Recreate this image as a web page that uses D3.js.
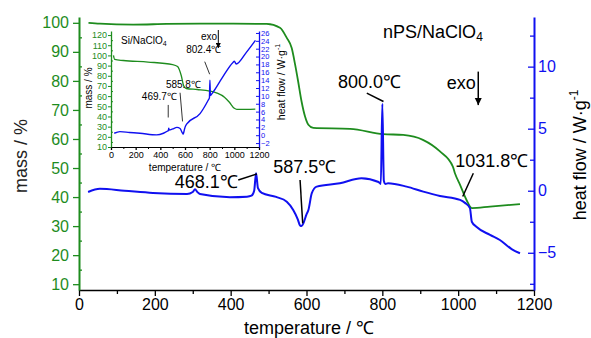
<!DOCTYPE html>
<html>
<head>
<meta charset="utf-8">
<script src="https://cdn.jsdelivr.net/npm/d3@7"></script>
<style>
body { margin: 0; background: #fff; }
text { font-family: "Liberation Sans", Arial, sans-serif; }
</style>
</head>
<body>
<svg id="chart" width="591" height="338"></svg>
<script>
// main curves: nPS/NaClO4
var massTemp = [25, 55, 143, 231, 319, 407, 495, 530, 548, 561, 570, 578, 587, 596, 605, 618, 715, 802, 855, 907, 952, 986, 992, 1005, 1022, 1036, 1084, 1163];
var massVal  = [100, 99.7, 99.4, 99.6, 99.7, 99.7, 99.6, 98.3, 94.8, 91.3, 85.6, 79.8, 72.9, 67.8, 64.9, 63.8, 63.5, 61.7, 61.4, 59.7, 55.7, 50.5, 48, 44.2, 39, 36.2, 36.7, 37.6];

var heatTemp = [24, 55, 120, 195, 285, 300, 306, 312, 319, 398, 443, 455, 462, 467, 472, 482, 520, 548, 565, 577, 583, 587, 592, 600, 605, 614, 627, 688, 745, 790, 796, 800, 804, 808, 815, 864, 908, 952, 1005, 1018, 1031, 1036, 1048, 1084, 1110, 1141, 1163];
var heatVal  = [-0.1, 0.15, 0, -0.18, -0.26, -0.1, 0.12, -0.1, -0.26, -0.52, -0.48, -0.4, 0, 1.41, 0.2, -0.18, -0.5, -0.88, -1.55, -2.3, -2.8, -2.85, -2.6, -1.9, -1.55, -0.2, 0.33, 0.6, 1.0, 0.7, 0.55, 7.0, 0.8, 0.55, 0.6, 0.33, -0.07, -0.42, -0.74, -0.98, -1.4, -2.5, -2.9, -3.56, -3.97, -4.7, -5.04];

// inset curves: Si/NaClO4
var insetMassTemp = [20, 30, 100, 300, 500, 540, 570, 590, 610, 700, 800, 860, 920, 960, 1000, 1020, 1100, 1170];
var insetMassVal  = [100, 96, 95, 93.5, 91, 89, 80, 70, 67.5, 66.5, 65, 63, 59, 54, 48, 47, 47, 47.3];

var insetHeatTemp = [26, 72, 150, 235, 370, 425, 455, 465, 468, 472, 500, 535, 560, 575, 581, 586, 592, 600, 613, 722, 788, 798, 802, 806, 812, 829, 900, 989, 1000, 1015, 1096, 1171];
var insetHeatVal  = [0.5, 0.9, 0.7, 0.5, 0.08, 0.5, 1.0, 1.2, 1.75, 1.3, 1.6, 2.0, 1.7, 0.8, 0.5, 0.3, 1.0, 2.0, 2.8, 5.5, 8.9, 9.5, 14, 10.1, 10.3, 11, 14.5, 18.5, 18.8, 18.1, 21, 24.1];

// ticks
var xTicks = [0, 200, 400, 600, 800, 1000, 1200];
var massTicks = [10, 20, 30, 40, 50, 60, 70, 80, 90, 100];
var heatTicks = [-5, 0, 5, 10];
var insetMassTicks = [10, 20, 30, 40, 50, 60, 70, 80, 90, 100, 110, 120];
var insetHeatTicks = [-2, 0, 2, 4, 6, 8, 10, 12, 14, 16, 18, 20, 22, 24, 26];

// peak labels (temperature, heat flow) for main chart
var peakLabels = ["468.1\u2103", "587.5\u2103", "800.0\u2103", "1031.8\u2103"];
var peakTextPos = [[419, 0.23, "end"], [512, 1.44, "start"], [683, 8.29, "start"], [992, 1.92, "start"]];
var peakLeader = [[[420, 0.87], [469, 1.35]], [[583, 0.87], [590, -2.62]], [[759, 7.86], [803, 7.19]], [[1040, 1.41], [1012, -0.47]]];

// peak labels for inset
var insetLabels = ["469.7\u2103", "585.8\u2103", "802.4\u2103"];
var insetTextPos = [[250, 9.0], [445, 11.9], [610, 21.0]];
var insetLeader = [[[464, 7.7], [464, 4.5]], [[560, 10.8], [580, 3.5]], [[760, 18.7], [800, 15.5]]];

var green = "#1e8c1e", blue = "#1010f0";
var fmt = d3.format("d");
var svg = d3.select("#chart");

var x = d3.scaleLinear().domain([0, 1200]).range([79, 534]);
var yMass = d3.scaleLinear().domain([8, 102]).range([290, 17]);
var yHeat = d3.scaleLinear().domain([-8, 14]).range([290, 17]);

function styleAxis(g, color, w) {
  g.select(".domain").attr("stroke", color).attr("stroke-width", w);
  g.selectAll(".tick line").attr("stroke", color).attr("stroke-width", 1.3);
  g.selectAll(".tick text").attr("fill", color).style("font-family", "Liberation Sans, Arial, sans-serif");
}

// bottom axis
var gx = svg.append("g").attr("transform", "translate(0,290)")
  .call(d3.axisBottom(x).tickValues(xTicks).tickFormat(fmt).tickSize(6).tickSizeOuter(0).tickPadding(3))
  .style("font-size", "16px");
styleAxis(gx, "#000", 1.6);
svg.append("g").attr("transform", "translate(0,290)")
  .call(d3.axisBottom(x).tickValues(d3.range(100, 1200, 200)).tickSize(4).tickFormat(""))
  .call(function(g) { g.select(".domain").remove(); g.selectAll("line").attr("stroke", "#000").attr("stroke-width", 1.3); });

// left axis
var gy = svg.append("g").attr("transform", "translate(79,0)")
  .call(d3.axisLeft(yMass).tickValues(massTicks).tickFormat(fmt).tickSize(6).tickSizeOuter(0).tickPadding(4))
  .style("font-size", "16px");
styleAxis(gy, green, 2);
svg.append("g").attr("transform", "translate(79,0)")
  .call(d3.axisRight(yMass).tickValues(d3.range(15, 100, 10)).tickSize(3).tickFormat(""))
  .call(function(g) { g.select(".domain").remove(); g.selectAll("line").attr("stroke", green).attr("stroke-width", 1.3); });

// right axis
var gr = svg.append("g").attr("transform", "translate(534,0)")
  .call(d3.axisRight(yHeat).tickValues(heatTicks).tickFormat(fmt).tickSize(-6).tickSizeOuter(0).tickPadding(4))
  .style("font-size", "16px");
styleAxis(gr, blue, 2);
svg.append("g").attr("transform", "translate(534,0)")
  .call(d3.axisLeft(yHeat).tickValues([-7.5, -2.5, 2.5, 7.5, 12.5]).tickSize(4).tickFormat(""))
  .call(function(g) { g.select(".domain").remove(); g.selectAll("line").attr("stroke", blue).attr("stroke-width", 1.3); });

// axis titles
svg.append("text").attr("x", 309).attr("y", 334).attr("text-anchor", "middle")
  .style("font-size", "18px").text("temperature / \u2103");
svg.append("text").attr("transform", "translate(27,156) rotate(-90)").attr("text-anchor", "middle")
  .style("font-size", "18px").attr("fill", "#222").text("mass / %");
var ht = svg.append("text").attr("transform", "translate(586,155) rotate(-90)").attr("text-anchor", "middle")
  .style("font-size", "18px");
ht.append("tspan").text("heat flow / W\u00b7g");
ht.append("tspan").attr("dy", -8).style("font-size", "12px").text("-1");

// main curves
var massLine = d3.line().x(function(d) { return x(d[0]); }).y(function(d) { return yMass(d[1]); }).curve(d3.curveMonotoneX);
var heatLine = d3.line().x(function(d) { return x(d[0]); }).y(function(d) { return yHeat(d[1]); }).curve(d3.curveMonotoneX);

svg.append("path").datum(d3.zip(massTemp, massVal)).attr("d", massLine)
  .attr("fill", "none").attr("stroke", green).attr("stroke-width", 1.8);
svg.append("path").datum(d3.zip(heatTemp, heatVal)).attr("d", heatLine)
  .attr("fill", "none").attr("stroke", blue).attr("stroke-width", 2);

// peak annotations
peakLabels.forEach(function(lab, i) {
  var p = peakTextPos[i];
  svg.append("text").attr("x", x(p[0])).attr("y", yHeat(p[1])).attr("text-anchor", p[2])
    .style("font-size", "18px").text(lab);
  var l = peakLeader[i];
  svg.append("line").attr("x1", x(l[0][0])).attr("y1", yHeat(l[0][1]))
    .attr("x2", x(l[1][0])).attr("y2", yHeat(l[1][1]))
    .attr("stroke", "#000").attr("stroke-width", 1.5);
});

// title and exo arrow
var tt = svg.append("text").attr("x", x(802)).attr("y", yHeat(12.3)).style("font-size", "18px");
tt.append("tspan").text("nPS/NaClO");
tt.append("tspan").attr("dy", 3).style("font-size", "12px").text("4");
svg.append("text").attr("x", x(970)).attr("y", yHeat(8.21)).style("font-size", "18px").text("exo");

var defs = svg.append("defs");
defs.append("marker").attr("id", "arr").attr("viewBox", "0 0 10 10")
  .attr("refX", 10).attr("refY", 5).attr("markerWidth", 7).attr("markerHeight", 9)
  .attr("markerUnits", "userSpaceOnUse").attr("orient", "auto")
  .append("path").attr("d", "M0,0 L10,5 L0,10 Z").attr("fill", "#000");
defs.append("marker").attr("id", "arrs").attr("viewBox", "0 0 10 10")
  .attr("refX", 10).attr("refY", 5).attr("markerWidth", 5).attr("markerHeight", 5)
  .attr("markerUnits", "userSpaceOnUse").attr("orient", "auto")
  .append("path").attr("d", "M0,0 L10,5 L0,10 Z").attr("fill", "#000");
svg.append("line").attr("x1", x(1053)).attr("y1", yHeat(9.6)).attr("x2", x(1053)).attr("y2", yHeat(6.9))
  .attr("stroke", "#000").attr("stroke-width", 1.5).attr("marker-end", "url(#arr)");

// ---------- inset ----------
var ix = d3.scaleLinear().domain([0, 1200]).range([111, 259]);
var iyMass = d3.scaleLinear().domain([10, 124]).range([147, 31]);
var iyHeat = d3.scaleLinear().domain([-3, 26.5]).range([147, 31]);
var inset = svg.append("g");

var ixg = inset.append("g").attr("transform", "translate(0,147)")
  .call(d3.axisBottom(ix).tickValues(xTicks).tickFormat(fmt).tickSize(3).tickSizeOuter(0).tickPadding(2))
  .style("font-size", "9px");
styleAxis(ixg, "#000", 1);
inset.append("g").attr("transform", "translate(0,147)")
  .call(d3.axisBottom(ix).tickValues(d3.range(100, 1200, 200)).tickSize(2).tickFormat(""))
  .call(function(g) { g.select(".domain").remove(); g.selectAll("line").attr("stroke", "#000"); });

var iyg = inset.append("g").attr("transform", "translate(111,0)")
  .call(d3.axisLeft(iyMass).tickValues(insetMassTicks).tickFormat(fmt).tickSize(3).tickSizeOuter(0).tickPadding(1))
  .style("font-size", "9px");
styleAxis(iyg, green, 1.3);
iyg.selectAll(".tick line").attr("stroke-width", 1);
inset.append("g").attr("transform", "translate(111,0)")
  .call(d3.axisRight(iyMass).tickValues(d3.range(15, 124, 10)).tickSize(2).tickFormat(""))
  .call(function(g) { g.select(".domain").remove(); g.selectAll("line").attr("stroke", green); });

var irg = inset.append("g").attr("transform", "translate(259,0)")
  .call(d3.axisRight(iyHeat).tickValues(insetHeatTicks).tickFormat(fmt).tickSize(-3).tickSizeOuter(0).tickPadding(2))
  .style("font-size", "7.5px");
styleAxis(irg, blue, 1.3);
irg.selectAll(".tick line").attr("stroke-width", 1);

inset.append("text").attr("transform", "translate(92,88) rotate(-90)").attr("text-anchor", "middle")
  .style("font-size", "10px").text("mass / %");
var iht = inset.append("text").attr("transform", "translate(285,82) rotate(-90)").attr("text-anchor", "middle")
  .style("font-size", "10.5px");
iht.append("tspan").text("heat flow / W\u00b7g");
iht.append("tspan").attr("dy", -5).style("font-size", "7px").text("-1");
inset.append("text").attr("x", 185).attr("y", 171).attr("text-anchor", "middle")
  .style("font-size", "10px").text("temperature / \u2103");

var it = inset.append("text").attr("x", 121).attr("y", 44).style("font-size", "10px");
it.append("tspan").text("Si/NaClO");
it.append("tspan").attr("dy", 2).style("font-size", "7px").text("4");
inset.append("text").attr("x", 201).attr("y", 40).style("font-size", "10px").text("exo");
inset.append("line").attr("x1", ix(870)).attr("y1", 30).attr("x2", ix(870)).attr("y2", 48)
  .attr("stroke", "#000").attr("stroke-width", 1).attr("marker-end", "url(#arrs)");

var iMassLine = d3.line().x(function(d) { return ix(d[0]); }).y(function(d) { return iyMass(d[1]); }).curve(d3.curveMonotoneX);
var iHeatLine = d3.line().x(function(d) { return ix(d[0]); }).y(function(d) { return iyHeat(d[1]); }).curve(d3.curveMonotoneX);
inset.append("path").datum(d3.zip(insetMassTemp, insetMassVal)).attr("d", iMassLine)
  .attr("fill", "none").attr("stroke", green).attr("stroke-width", 1.3);
inset.append("path").datum(d3.zip(insetHeatTemp, insetHeatVal)).attr("d", iHeatLine)
  .attr("fill", "none").attr("stroke", blue).attr("stroke-width", 1.4);

insetLabels.forEach(function(lab, i) {
  var p = insetTextPos[i];
  inset.append("text").attr("x", ix(p[0])).attr("y", iyHeat(p[1])).style("font-size", "10px").text(lab);
  var l = insetLeader[i];
  inset.append("line").attr("x1", ix(l[0][0])).attr("y1", iyHeat(l[0][1]))
    .attr("x2", ix(l[1][0])).attr("y2", iyHeat(l[1][1])).attr("stroke", "#000").attr("stroke-width", 0.8);
});
</script>
</body>
</html>
